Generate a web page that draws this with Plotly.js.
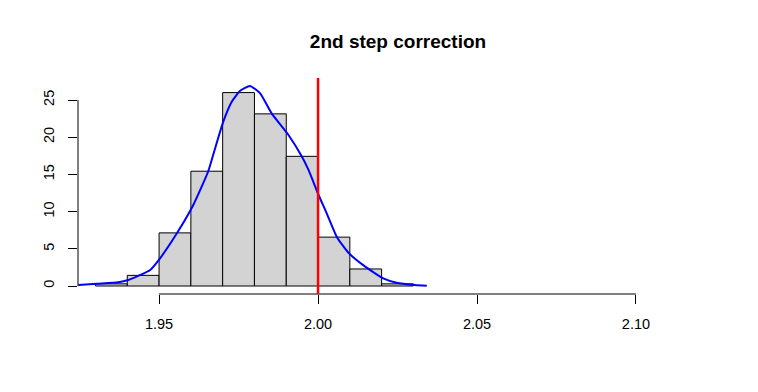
<!DOCTYPE html>
<html>
<head>
<meta charset="utf-8">
<script src="https://cdn.plot.ly/plotly-3.0.1.min.js"></script>
<style>
  body { margin: 0; background: #fff; }
  #histArea { width: 758px; height: 392px; }
</style>
</head>
<body>
<div id="histArea"></div>
<script>
// histogram bins (width 0.01) and their densities
let binMids = [1.935, 1.945, 1.955, 1.965, 1.975, 1.985, 1.995, 2.005, 2.015, 2.025];
let binDensity = [0.29, 1.43, 7.14, 15.43, 26.0, 23.14, 17.43, 6.57, 2.29, 0.29];

// kernel density curve
let densX = [1.9246, 1.9304, 1.9372, 1.9403, 1.9472, 1.9503, 1.9556, 1.9606, 1.9634, 1.9655,
             1.9681, 1.9702, 1.9729, 1.9755, 1.9786, 1.9818, 1.9854, 1.9907, 1.9949, 1.9970,
             2.0002, 2.0027, 2.0059, 2.0095, 2.0142, 2.0205, 2.0247, 2.0305, 2.0342];
let densY = [0.13, 0.3, 0.49, 0.8, 2.15, 3.72, 7.08, 10.75, 13.35, 15.46,
             19.2, 22.1, 24.8, 26.25, 26.9, 25.9, 23.2, 20.3, 17.4, 15.6,
             12.2, 9.8, 6.6, 4.5, 2.8, 1.03, 0.45, 0.13, 0.02];

let xTicks = [1.95, 2.00, 2.05, 2.10];
let xTickText = ["1.95", "2.00", "2.05", "2.10"];
let yTicks = [0, 5, 10, 15, 20, 25];
let trueValue = 2.00;

let bars = {
    x: binMids,
    y: binDensity,
    type: "bar",
    width: 0.01,
    marker: {color: "#d3d3d3", line: {color: "black", width: 1}},
    hoverinfo: "skip"
};

let dens = {
    x: densX,
    y: densY,
    mode: "lines",
    type: "scatter",
    line: {color: "blue", width: 2, shape: "spline", smoothing: 0.5},
    hoverinfo: "skip"
};

let tickFont = {family: "Liberation Sans, Arial, sans-serif", size: 14.5, color: "black"};

let layout = {
    width: 758,
    height: 392,
    margin: {l: 78, r: 40, t: 78, b: 98},
    paper_bgcolor: "white",
    plot_bgcolor: "white",
    showlegend: false,
    bargap: 0,
    title: {
        text: "<b>2nd step correction</b>",
        font: {family: "Liberation Sans, Arial, sans-serif", size: 19, color: "black"},
        x: 0.5, xref: "paper", xanchor: "center",
        y: 1 - 41 / 392, yref: "container", yanchor: "middle"
    },
    xaxis: {
        range: [1.9245, 2.1258],
        tickvals: xTicks,
        ticktext: xTickText,
        ticks: "outside",
        ticklen: 9,
        tickwidth: 1,
        tickcolor: "black",
        ticklabelstandoff: 8,
        tickfont: tickFont,
        showgrid: false,
        zeroline: false,
        showline: false
    },
    yaxis: {
        range: [-1.075, 27.96],
        tickvals: yTicks,
        ticks: "outside",
        ticklen: 9,
        tickwidth: 1,
        tickcolor: "black",
        tickangle: -90,
        ticklabelstandoff: 8,
        tickfont: tickFont,
        showgrid: false,
        zeroline: false,
        showline: false
    },
    shapes: [
        // R style axis lines spanning only the tick range
        {type: "line", xref: "x", yref: "paper", x0: xTicks[0], x1: xTicks[xTicks.length - 1], y0: 0, y1: 0,
         line: {color: "black", width: 1}},
        {type: "line", xref: "paper", yref: "y", x0: 0, x1: 0, y0: yTicks[0], y1: yTicks[yTicks.length - 1],
         line: {color: "black", width: 1}},
        {type: "line", xref: "x", yref: "paper", x0: trueValue, x1: trueValue, y0: 0, y1: 1,
         line: {color: "red", width: 2.5}}
    ]
};

Plotly.newPlot("histArea", [bars, dens], layout, {staticPlot: true});
</script>
</body>
</html>
